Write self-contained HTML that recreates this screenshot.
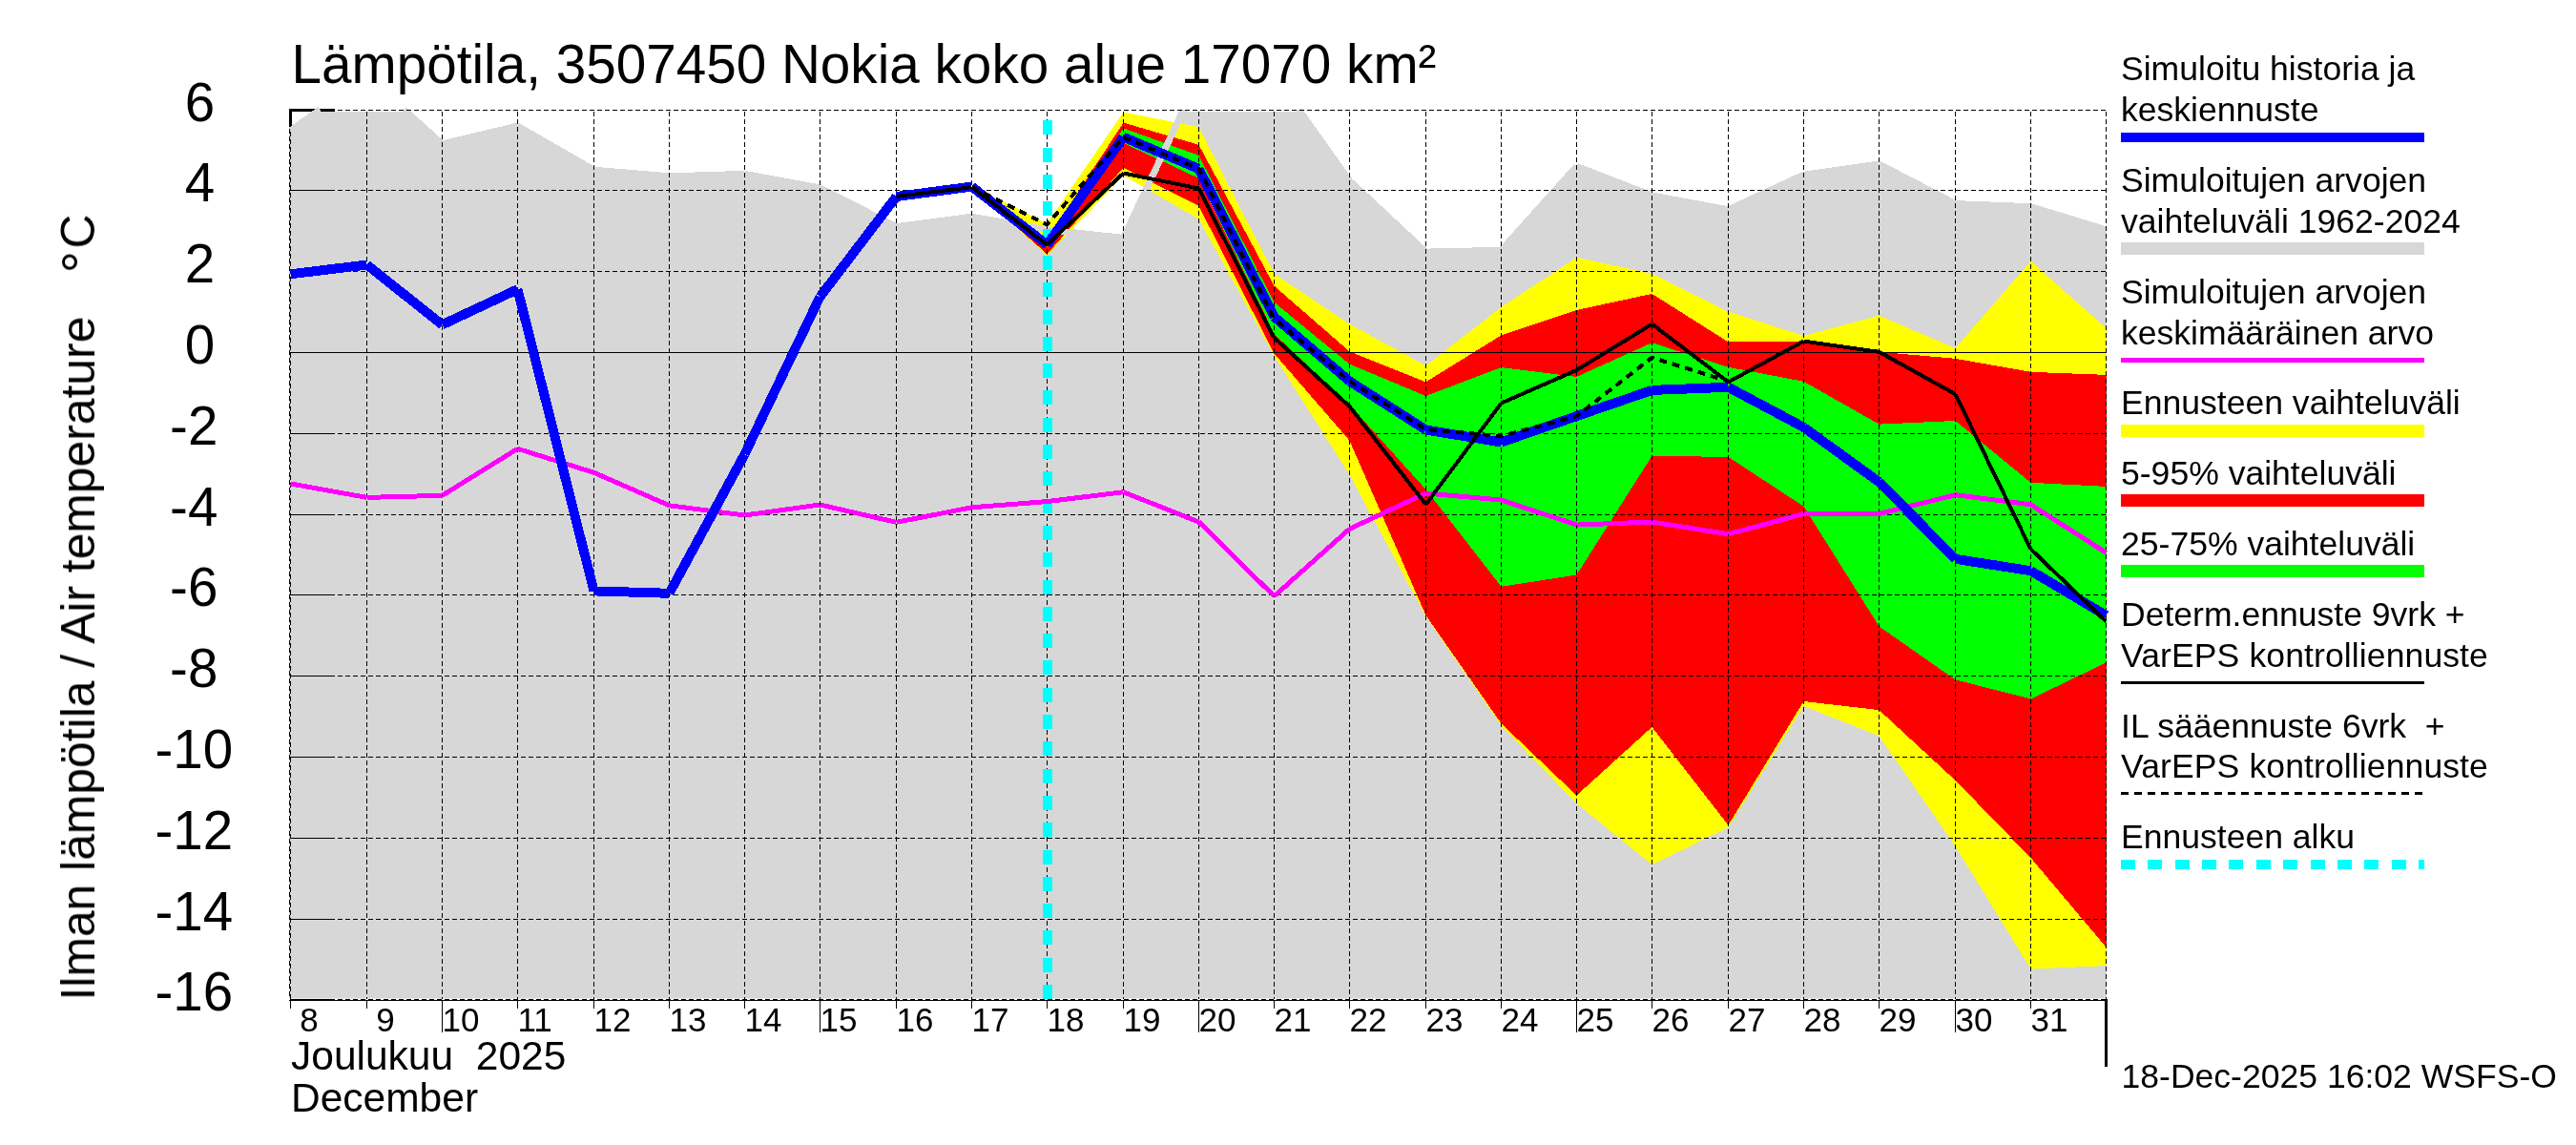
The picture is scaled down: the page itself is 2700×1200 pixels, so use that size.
<!DOCTYPE html>
<html><head><meta charset="utf-8"><title>Lämpötila</title>
<style>
html,body{margin:0;padding:0;background:#fff;}
body{width:2700px;height:1200px;overflow:hidden;font-family:"Liberation Sans",sans-serif;}
svg{display:block;}
text{font-family:"Liberation Sans",sans-serif;fill:#000;}
</style></head><body>
<svg width="2700" height="1200" viewBox="0 0 2700 1200">
<rect width="2700" height="1200" fill="#fff"/>
<defs>
<clipPath id="cp"><rect x="303" y="117" width="1905" height="929.5"/></clipPath>
<clipPath id="cpl"><rect x="303" y="112" width="1907" height="936"/></clipPath>

<clipPath id="gp"><polygon points="301.5,136.9 304.5,136.9 384.5,80.0 463.5,150.9 542.5,132.1 622.5,178.2 701.5,184.8 780.5,182.4 859.5,196.9 939.5,237.7 1018.5,227.2 1097.5,240.8 1177.5,249.4 1256.5,80.5 1335.5,78.6 1414.5,189.6 1494.5,264.1 1573.5,262.3 1652.5,174.4 1731.5,205.0 1811.5,219.8 1890.5,183.2 1969.5,172.0 2049.5,213.6 2128.5,216.7 2207.5,240.8 2210.5,240.8 2210.5,1060 301.5,1060"/></clipPath>
</defs>
<g shape-rendering="crispEdges">
<rect x="303" y="114" width="3" height="20" fill="#000"/>
<rect x="303" y="114" width="48" height="3" fill="#000"/>
<g clip-path="url(#cp)"><polygon points="301.5,136.9 304.5,136.9 384.5,80.0 463.5,150.9 542.5,132.1 622.5,178.2 701.5,184.8 780.5,182.4 859.5,196.9 939.5,237.7 1018.5,227.2 1097.5,240.8 1177.5,249.4 1256.5,80.5 1335.5,78.6 1414.5,189.6 1494.5,264.1 1573.5,262.3 1652.5,174.4 1731.5,205.0 1811.5,219.8 1890.5,183.2 1969.5,172.0 2049.5,213.6 2128.5,216.7 2207.5,240.8 2210.5,240.8 2210.5,1060 301.5,1060" fill="#d7d7d7"/>
<polygon points="1018.5,194.5 1097.5,234.1 1177.5,117.5 1256.5,133.2 1335.5,287.0 1414.5,339.6 1494.5,383.2 1573.5,321.9 1652.5,269.8 1731.5,286.9 1811.5,326.5 1890.5,352.0 1969.5,330.7 2049.5,364.9 2128.5,273.7 2207.5,343.9 2207.5,1012.1 2128.5,1015.6 2049.5,887.0 1969.5,771.3 1890.5,740.0 1811.5,867.2 1731.5,906.1 1652.5,842.2 1573.5,760.6 1494.5,646.0 1414.5,497.5 1335.5,373.0 1256.5,229.7 1177.5,183.8 1097.5,268.0 1018.5,196.5" fill="#ffff00"/>
<polygon points="1018.5,195.6 1097.5,251.0 1177.5,128.5 1256.5,151.8 1335.5,299.6 1414.5,368.4 1494.5,400.3 1573.5,351.4 1652.5,325.0 1731.5,307.9 1811.5,358.4 1890.5,357.5 1969.5,368.8 2049.5,375.8 2128.5,389.8 2207.5,392.9 2207.5,992.7 2128.5,899.0 2049.5,817.9 1969.5,744.1 1890.5,735.0 1811.5,864.8 1731.5,761.9 1652.5,833.7 1573.5,758.3 1494.5,645.0 1414.5,461.8 1335.5,370.5 1256.5,216.0 1177.5,175.7 1097.5,266.5 1018.5,196.2" fill="#ff0000"/>
<polygon points="1018.5,195.8 1097.5,254.0 1177.5,134.4 1256.5,162.9 1335.5,316.8 1414.5,381.6 1494.5,415.0 1573.5,385.0 1652.5,394.9 1731.5,359.2 1811.5,384.8 1890.5,399.8 1969.5,444.6 2049.5,441.0 2128.5,505.8 2207.5,509.9 2207.5,694.5 2128.5,732.5 2049.5,712.4 1969.5,656.4 1890.5,530.7 1811.5,478.9 1731.5,477.8 1652.5,602.5 1573.5,614.8 1494.5,513.0 1414.5,424.4 1335.5,350.0 1256.5,186.8 1177.5,150.0 1097.5,259.0 1018.5,196.0" fill="#00ff00"/>
<line x1="300.5" y1="139.8" x2="304.5" y2="136.9" stroke="#d7d7d7" stroke-width="7.0"/>
<line x1="304.5" y1="136.9" x2="384.5" y2="80.0" stroke="#d7d7d7" stroke-width="7.0" />
<line x1="384.5" y1="80.0" x2="463.5" y2="150.9" stroke="#d7d7d7" stroke-width="7.0" />
<line x1="463.5" y1="150.9" x2="542.5" y2="132.1" stroke="#d7d7d7" stroke-width="7.0" />
<line x1="542.5" y1="132.1" x2="622.5" y2="178.2" stroke="#d7d7d7" stroke-width="7.0" />
<line x1="622.5" y1="178.2" x2="701.5" y2="184.8" stroke="#d7d7d7" stroke-width="7.0" />
<line x1="701.5" y1="184.8" x2="780.5" y2="182.4" stroke="#d7d7d7" stroke-width="7.0" />
<line x1="780.5" y1="182.4" x2="859.5" y2="196.9" stroke="#d7d7d7" stroke-width="7.0" />
<line x1="859.5" y1="196.9" x2="939.5" y2="237.7" stroke="#d7d7d7" stroke-width="7.0" />
<line x1="939.5" y1="237.7" x2="1018.5" y2="227.2" stroke="#d7d7d7" stroke-width="7.0" />
<line x1="1018.5" y1="227.2" x2="1097.5" y2="240.8" stroke="#d7d7d7" stroke-width="7.0" />
<line x1="1097.5" y1="240.8" x2="1177.5" y2="249.4" stroke="#d7d7d7" stroke-width="7.0" />
<line x1="1177.5" y1="249.4" x2="1256.5" y2="80.5" stroke="#d7d7d7" stroke-width="7.0" />
<line x1="1256.5" y1="80.5" x2="1335.5" y2="78.6" stroke="#d7d7d7" stroke-width="7.0" />
<line x1="1335.5" y1="78.6" x2="1414.5" y2="189.6" stroke="#d7d7d7" stroke-width="7.0" />
<line x1="1414.5" y1="189.6" x2="1494.5" y2="264.1" stroke="#d7d7d7" stroke-width="7.0" />
<line x1="1494.5" y1="264.1" x2="1573.5" y2="262.3" stroke="#d7d7d7" stroke-width="7.0" />
<line x1="1573.5" y1="262.3" x2="1652.5" y2="174.4" stroke="#d7d7d7" stroke-width="7.0" />
<line x1="1652.5" y1="174.4" x2="1731.5" y2="205.0" stroke="#d7d7d7" stroke-width="7.0" />
<line x1="1731.5" y1="205.0" x2="1811.5" y2="219.8" stroke="#d7d7d7" stroke-width="7.0" />
<line x1="1811.5" y1="219.8" x2="1890.5" y2="183.2" stroke="#d7d7d7" stroke-width="7.0" />
<line x1="1890.5" y1="183.2" x2="1969.5" y2="172.0" stroke="#d7d7d7" stroke-width="7.0" />
<line x1="1969.5" y1="172.0" x2="2049.5" y2="213.6" stroke="#d7d7d7" stroke-width="7.0" />
<line x1="2049.5" y1="213.6" x2="2128.5" y2="216.7" stroke="#d7d7d7" stroke-width="7.0" />
<line x1="2128.5" y1="216.7" x2="2207.5" y2="240.8" stroke="#d7d7d7" stroke-width="7.0" />
<line x1="2207.5" y1="240.8" x2="2211.5" y2="242.0" stroke="#d7d7d7" stroke-width="7.0"/>
</g>
<line x1="304" y1="115.5" x2="351" y2="115.5" stroke="#000" stroke-width="1"/>
<line x1="304" y1="199.5" x2="351" y2="199.5" stroke="#000" stroke-width="1"/>
<line x1="304" y1="284.5" x2="351" y2="284.5" stroke="#000" stroke-width="1"/>
<line x1="304" y1="454.5" x2="351" y2="454.5" stroke="#000" stroke-width="1"/>
<line x1="304" y1="539.5" x2="351" y2="539.5" stroke="#000" stroke-width="1"/>
<line x1="304" y1="623.5" x2="351" y2="623.5" stroke="#000" stroke-width="1"/>
<line x1="304" y1="708.5" x2="351" y2="708.5" stroke="#000" stroke-width="1"/>
<line x1="304" y1="793.5" x2="351" y2="793.5" stroke="#000" stroke-width="1"/>
<line x1="304" y1="878.5" x2="351" y2="878.5" stroke="#000" stroke-width="1"/>
<line x1="304" y1="963.5" x2="351" y2="963.5" stroke="#000" stroke-width="1"/>
<line x1="304" y1="1047.5" x2="351" y2="1047.5" stroke="#000" stroke-width="1"/>
<polygon points="325.74,117.5 333.26,112.15 337.07,117.5" fill="#d7d7d7"/>
<polygon points="431.52,117.5 425.84,112.40 421.25,117.5" fill="#d7d7d7"/>
<polygon points="1235.33,117.5 1237.19,113.52 1245.71,117.5" fill="#d7d7d7"/>
<polygon points="1367.48,117.5 1364.26,112.97 1357.89,117.5" fill="#d7d7d7"/>
<line x1="354" y1="115.5" x2="2208" y2="115.5" stroke="#000" stroke-width="1" stroke-dasharray="5 3"/>
<line x1="354" y1="199.5" x2="2208" y2="199.5" stroke="#000" stroke-width="1" stroke-dasharray="5 3"/>
<line x1="354" y1="284.5" x2="2208" y2="284.5" stroke="#000" stroke-width="1" stroke-dasharray="5 3"/>
<line x1="304" y1="369.5" x2="2208" y2="369.5" stroke="#000" stroke-width="1"/>
<line x1="354" y1="454.5" x2="2208" y2="454.5" stroke="#000" stroke-width="1" stroke-dasharray="5 3"/>
<line x1="354" y1="539.5" x2="2208" y2="539.5" stroke="#000" stroke-width="1" stroke-dasharray="5 3"/>
<line x1="354" y1="623.5" x2="2208" y2="623.5" stroke="#000" stroke-width="1" stroke-dasharray="5 3"/>
<line x1="354" y1="708.5" x2="2208" y2="708.5" stroke="#000" stroke-width="1" stroke-dasharray="5 3"/>
<line x1="354" y1="793.5" x2="2208" y2="793.5" stroke="#000" stroke-width="1" stroke-dasharray="5 3"/>
<line x1="354" y1="878.5" x2="2208" y2="878.5" stroke="#000" stroke-width="1" stroke-dasharray="5 3"/>
<line x1="354" y1="963.5" x2="2208" y2="963.5" stroke="#000" stroke-width="1" stroke-dasharray="5 3"/>
<line x1="354" y1="1047.5" x2="2208" y2="1047.5" stroke="#000" stroke-width="1" stroke-dasharray="5 3"/>
<line x1="303.5" y1="134.8" x2="303.5" y2="1047" stroke="#000" stroke-width="1" stroke-dasharray="5 3"/>
<line x1="304.5" y1="137.7" x2="304.5" y2="1047" stroke="#000" stroke-width="1" stroke-dasharray="5 3"/>
<line x1="384.5" y1="117" x2="384.5" y2="1047" stroke="#000" stroke-width="1" stroke-dasharray="5 3"/>
<line x1="463.5" y1="117" x2="463.5" y2="1047" stroke="#000" stroke-width="1" stroke-dasharray="5 3"/>
<line x1="542.5" y1="117" x2="542.5" y2="1047" stroke="#000" stroke-width="1" stroke-dasharray="5 3"/>
<line x1="622.5" y1="117" x2="622.5" y2="1047" stroke="#000" stroke-width="1" stroke-dasharray="5 3"/>
<line x1="701.5" y1="117" x2="701.5" y2="1047" stroke="#000" stroke-width="1" stroke-dasharray="5 3"/>
<line x1="780.5" y1="117" x2="780.5" y2="1047" stroke="#000" stroke-width="1" stroke-dasharray="5 3"/>
<line x1="859.5" y1="117" x2="859.5" y2="1047" stroke="#000" stroke-width="1" stroke-dasharray="5 3"/>
<line x1="939.5" y1="117" x2="939.5" y2="1047" stroke="#000" stroke-width="1" stroke-dasharray="5 3"/>
<line x1="1018.5" y1="117" x2="1018.5" y2="1047" stroke="#000" stroke-width="1" stroke-dasharray="5 3"/>
<line x1="1097.5" y1="117" x2="1097.5" y2="1047" stroke="#000" stroke-width="1" stroke-dasharray="5 3"/>
<line x1="1177.5" y1="117" x2="1177.5" y2="1047" stroke="#000" stroke-width="1" stroke-dasharray="5 3"/>
<line x1="1256.5" y1="117" x2="1256.5" y2="1047" stroke="#000" stroke-width="1" stroke-dasharray="5 3"/>
<line x1="1335.5" y1="117" x2="1335.5" y2="1047" stroke="#000" stroke-width="1" stroke-dasharray="5 3"/>
<line x1="1414.5" y1="117" x2="1414.5" y2="1047" stroke="#000" stroke-width="1" stroke-dasharray="5 3"/>
<line x1="1494.5" y1="117" x2="1494.5" y2="1047" stroke="#000" stroke-width="1" stroke-dasharray="5 3"/>
<line x1="1573.5" y1="117" x2="1573.5" y2="1047" stroke="#000" stroke-width="1" stroke-dasharray="5 3"/>
<line x1="1652.5" y1="117" x2="1652.5" y2="1047" stroke="#000" stroke-width="1" stroke-dasharray="5 3"/>
<line x1="1731.5" y1="117" x2="1731.5" y2="1047" stroke="#000" stroke-width="1" stroke-dasharray="5 3"/>
<line x1="1811.5" y1="117" x2="1811.5" y2="1047" stroke="#000" stroke-width="1" stroke-dasharray="5 3"/>
<line x1="1890.5" y1="117" x2="1890.5" y2="1047" stroke="#000" stroke-width="1" stroke-dasharray="5 3"/>
<line x1="1969.5" y1="117" x2="1969.5" y2="1047" stroke="#000" stroke-width="1" stroke-dasharray="5 3"/>
<line x1="2049.5" y1="117" x2="2049.5" y2="1047" stroke="#000" stroke-width="1" stroke-dasharray="5 3"/>
<line x1="2128.5" y1="117" x2="2128.5" y2="1047" stroke="#000" stroke-width="1" stroke-dasharray="5 3"/>
<line x1="2207.5" y1="117" x2="2207.5" y2="1047" stroke="#000" stroke-width="1" stroke-dasharray="5 3"/>
<g clip-path="url(#cpl)">
<line x1="1098" y1="126.4" x2="1098" y2="1060" stroke="#00ffff" stroke-width="10" stroke-dasharray="15 13.3"/>
<line x1="304.5" y1="506.9" x2="384.5" y2="521.4" stroke="#ff00ff" stroke-width="5" />
<line x1="384.5" y1="521.4" x2="463.5" y2="519.3" stroke="#ff00ff" stroke-width="5" />
<line x1="463.5" y1="519.3" x2="542.5" y2="470.3" stroke="#ff00ff" stroke-width="5" />
<line x1="542.5" y1="470.3" x2="622.5" y2="495.3" stroke="#ff00ff" stroke-width="5" />
<line x1="622.5" y1="495.3" x2="701.5" y2="529.8" stroke="#ff00ff" stroke-width="5" />
<line x1="701.5" y1="529.8" x2="780.5" y2="540.0" stroke="#ff00ff" stroke-width="5" />
<line x1="780.5" y1="540.0" x2="859.5" y2="529.0" stroke="#ff00ff" stroke-width="5" />
<line x1="859.5" y1="529.0" x2="939.5" y2="547.3" stroke="#ff00ff" stroke-width="5" />
<line x1="939.5" y1="547.3" x2="1018.5" y2="531.8" stroke="#ff00ff" stroke-width="5" />
<line x1="1018.5" y1="531.8" x2="1097.5" y2="525.6" stroke="#ff00ff" stroke-width="5" />
<line x1="1097.5" y1="525.6" x2="1177.5" y2="515.7" stroke="#ff00ff" stroke-width="5" />
<line x1="1177.5" y1="515.7" x2="1256.5" y2="547.0" stroke="#ff00ff" stroke-width="5" />
<line x1="1256.5" y1="547.0" x2="1335.5" y2="624.8" stroke="#ff00ff" stroke-width="5" />
<line x1="1335.5" y1="624.8" x2="1414.5" y2="554.3" stroke="#ff00ff" stroke-width="5" />
<line x1="1414.5" y1="554.3" x2="1494.5" y2="517.0" stroke="#ff00ff" stroke-width="5" />
<line x1="1494.5" y1="517.0" x2="1573.5" y2="524.0" stroke="#ff00ff" stroke-width="5" />
<line x1="1573.5" y1="524.0" x2="1652.5" y2="550.1" stroke="#ff00ff" stroke-width="5" />
<line x1="1652.5" y1="550.1" x2="1731.5" y2="547.0" stroke="#ff00ff" stroke-width="5" />
<line x1="1731.5" y1="547.0" x2="1811.5" y2="559.7" stroke="#ff00ff" stroke-width="5" />
<line x1="1811.5" y1="559.7" x2="1890.5" y2="538.5" stroke="#ff00ff" stroke-width="5" />
<line x1="1890.5" y1="538.5" x2="1969.5" y2="538.5" stroke="#ff00ff" stroke-width="5" />
<line x1="1969.5" y1="538.5" x2="2049.5" y2="518.7" stroke="#ff00ff" stroke-width="5" />
<line x1="2049.5" y1="518.7" x2="2128.5" y2="528.8" stroke="#ff00ff" stroke-width="5" />
<line x1="2128.5" y1="528.8" x2="2207.5" y2="579.3" stroke="#ff00ff" stroke-width="5" />
<line x1="304.5" y1="287.3" x2="384.5" y2="277.5" stroke="#0000ff" stroke-width="10" />
<line x1="384.5" y1="277.5" x2="463.5" y2="340.3" stroke="#0000ff" stroke-width="10" />
<line x1="463.5" y1="340.3" x2="542.5" y2="303.2" stroke="#0000ff" stroke-width="10" />
<line x1="542.5" y1="303.2" x2="622.5" y2="619.4" stroke="#0000ff" stroke-width="10" />
<line x1="622.5" y1="619.4" x2="701.5" y2="621.8" stroke="#0000ff" stroke-width="10" />
<line x1="701.5" y1="621.8" x2="780.5" y2="476.0" stroke="#0000ff" stroke-width="10" />
<line x1="780.5" y1="476.0" x2="859.5" y2="311.0" stroke="#0000ff" stroke-width="10" />
<line x1="859.5" y1="311.0" x2="939.5" y2="206.0" stroke="#0000ff" stroke-width="10" />
<line x1="939.5" y1="206.0" x2="1018.5" y2="195.6" stroke="#0000ff" stroke-width="10" />
<line x1="1018.5" y1="195.6" x2="1097.5" y2="256.5" stroke="#0000ff" stroke-width="10" />
<line x1="1097.5" y1="256.5" x2="1177.5" y2="143.7" stroke="#0000ff" stroke-width="10" />
<line x1="1177.5" y1="143.7" x2="1256.5" y2="176.9" stroke="#0000ff" stroke-width="10" />
<line x1="1256.5" y1="176.9" x2="1335.5" y2="332.0" stroke="#0000ff" stroke-width="10" />
<line x1="1335.5" y1="332.0" x2="1414.5" y2="399.5" stroke="#0000ff" stroke-width="10" />
<line x1="1414.5" y1="399.5" x2="1494.5" y2="450.5" stroke="#0000ff" stroke-width="10" />
<line x1="1494.5" y1="450.5" x2="1573.5" y2="463.5" stroke="#0000ff" stroke-width="10" />
<line x1="1573.5" y1="463.5" x2="1652.5" y2="436.1" stroke="#0000ff" stroke-width="10" />
<line x1="1652.5" y1="436.1" x2="1731.5" y2="408.9" stroke="#0000ff" stroke-width="10" />
<line x1="1731.5" y1="408.9" x2="1811.5" y2="405.8" stroke="#0000ff" stroke-width="10" />
<line x1="1811.5" y1="405.8" x2="1890.5" y2="447.8" stroke="#0000ff" stroke-width="10" />
<line x1="1890.5" y1="447.8" x2="1969.5" y2="505.2" stroke="#0000ff" stroke-width="10" />
<line x1="1969.5" y1="505.2" x2="2049.5" y2="585.8" stroke="#0000ff" stroke-width="10" />
<line x1="2049.5" y1="585.8" x2="2128.5" y2="598.2" stroke="#0000ff" stroke-width="10" />
<line x1="2128.5" y1="598.2" x2="2207.5" y2="645.0" stroke="#0000ff" stroke-width="10" />
<line x1="939.5" y1="206.0" x2="1018.5" y2="196.0" stroke="#000" stroke-width="4" />
<line x1="1018.5" y1="196.0" x2="1097.5" y2="256.5" stroke="#000" stroke-width="4" />
<line x1="1097.5" y1="256.5" x2="1177.5" y2="181.5" stroke="#000" stroke-width="4" />
<line x1="1177.5" y1="181.5" x2="1256.5" y2="197.5" stroke="#000" stroke-width="4" />
<line x1="1256.5" y1="197.5" x2="1335.5" y2="354.0" stroke="#000" stroke-width="4" />
<line x1="1335.5" y1="354.0" x2="1414.5" y2="425.9" stroke="#000" stroke-width="4" />
<line x1="1414.5" y1="425.9" x2="1494.5" y2="528.6" stroke="#000" stroke-width="4" />
<line x1="1494.5" y1="528.6" x2="1573.5" y2="422.5" stroke="#000" stroke-width="4" />
<line x1="1573.5" y1="422.5" x2="1652.5" y2="387.9" stroke="#000" stroke-width="4" />
<line x1="1652.5" y1="387.9" x2="1731.5" y2="339.7" stroke="#000" stroke-width="4" />
<line x1="1731.5" y1="339.7" x2="1811.5" y2="400.4" stroke="#000" stroke-width="4" />
<line x1="1811.5" y1="400.4" x2="1890.5" y2="357.6" stroke="#000" stroke-width="4" />
<line x1="1890.5" y1="357.6" x2="1969.5" y2="368.8" stroke="#000" stroke-width="4" />
<line x1="1969.5" y1="368.8" x2="2049.5" y2="413.1" stroke="#000" stroke-width="4" />
<line x1="2049.5" y1="413.1" x2="2128.5" y2="575.5" stroke="#000" stroke-width="4" />
<line x1="2128.5" y1="575.5" x2="2207.5" y2="651.5" stroke="#000" stroke-width="4" />
<polyline points="1018.5,196.0 1097.5,235.3 1177.5,143.7 1256.5,176.9 1335.5,334.0 1414.5,399.5 1494.5,450.0 1573.5,457.1 1652.5,436.1 1731.5,374.7 1811.5,399.6" fill="none" stroke="#000" stroke-width="4" stroke-dasharray="8 6"/>
</g>
<rect x="303" y="1048" width="1906" height="1" fill="#000"/>
<rect x="304" y="1048" width="1" height="9" fill="#000"/>
<rect x="384" y="1048" width="1" height="9" fill="#000"/>
<rect x="463" y="1048" width="1" height="34" fill="#000"/>
<rect x="542" y="1048" width="1" height="9" fill="#000"/>
<rect x="622" y="1048" width="1" height="9" fill="#000"/>
<rect x="701" y="1048" width="1" height="9" fill="#000"/>
<rect x="780" y="1048" width="1" height="9" fill="#000"/>
<rect x="859" y="1048" width="1" height="34" fill="#000"/>
<rect x="939" y="1048" width="1" height="9" fill="#000"/>
<rect x="1018" y="1048" width="1" height="9" fill="#000"/>
<rect x="1097" y="1048" width="1" height="9" fill="#000"/>
<rect x="1177" y="1048" width="1" height="9" fill="#000"/>
<rect x="1256" y="1048" width="1" height="34" fill="#000"/>
<rect x="1335" y="1048" width="1" height="9" fill="#000"/>
<rect x="1414" y="1048" width="1" height="9" fill="#000"/>
<rect x="1494" y="1048" width="1" height="9" fill="#000"/>
<rect x="1573" y="1048" width="1" height="9" fill="#000"/>
<rect x="1652" y="1048" width="1" height="34" fill="#000"/>
<rect x="1731" y="1048" width="1" height="9" fill="#000"/>
<rect x="1811" y="1048" width="1" height="9" fill="#000"/>
<rect x="1890" y="1048" width="1" height="9" fill="#000"/>
<rect x="1969" y="1048" width="1" height="9" fill="#000"/>
<rect x="2049" y="1048" width="1" height="34" fill="#000"/>
<rect x="2128" y="1048" width="1" height="9" fill="#000"/>
<rect x="2206" y="1047" width="2.5" height="71" fill="#000"/>
<rect x="2223" y="139.0" width="318" height="10" fill="#0000ff"/>
<rect x="2223" y="254.0" width="318" height="13" fill="#d7d7d7"/>
<rect x="2223" y="375.0" width="318" height="5" fill="#ff00ff"/>
<rect x="2223" y="445.0" width="318" height="13" fill="#ffff00"/>
<rect x="2223" y="518.0" width="318" height="13" fill="#ff0000"/>
<rect x="2223" y="592.0" width="318" height="13" fill="#00ff00"/>
<rect x="2223" y="714.0" width="318" height="3" fill="#000"/>
<line x1="2223" y1="831.5" x2="2541" y2="831.5" stroke="#000" stroke-width="3" stroke-dasharray="8 6"/>
<line x1="2223" y1="906" x2="2541" y2="906" stroke="#00ffff" stroke-width="10" stroke-dasharray="15 13.36"/>
</g>
<g opacity="0.999">
<text x="305.5" y="87" font-size="56.67">Lämpötila, 3507450 Nokia koko alue 17070 km²</text>
<text x="162.4" y="126.8" font-size="56.5" xml:space="preserve">  6</text>
<text x="162.4" y="210.8" font-size="56.5" xml:space="preserve">  4</text>
<text x="162.4" y="295.8" font-size="56.5" xml:space="preserve">  2</text>
<text x="162.4" y="380.8" font-size="56.5" xml:space="preserve">  0</text>
<text x="162.4" y="465.8" font-size="56.5" xml:space="preserve"> -2</text>
<text x="162.4" y="550.8" font-size="56.5" xml:space="preserve"> -4</text>
<text x="162.4" y="634.8" font-size="56.5" xml:space="preserve"> -6</text>
<text x="162.4" y="719.8" font-size="56.5" xml:space="preserve"> -8</text>
<text x="162.4" y="804.8" font-size="56.5" xml:space="preserve">-10</text>
<text x="162.4" y="889.8" font-size="56.5" xml:space="preserve">-12</text>
<text x="162.4" y="974.8" font-size="56.5" xml:space="preserve">-14</text>
<text x="162.4" y="1058.8" font-size="56.5" xml:space="preserve">-16</text>
<text transform="translate(99,1048.5) rotate(-90)" font-size="49.8" xml:space="preserve">Ilman lämpötila / Air temperature   <tspan dx="4" dy="5.5" font-size="58">°</tspan><tspan dx="2.5" dy="-5.5" font-size="49.8">C</tspan></text>
<text x="304.5" y="1081" font-size="35" xml:space="preserve"> 8</text>
<text x="384.5" y="1081" font-size="35" xml:space="preserve"> 9</text>
<text x="463.5" y="1081" font-size="35" xml:space="preserve">10</text>
<text x="542.5" y="1081" font-size="35" xml:space="preserve">11</text>
<text x="622.5" y="1081" font-size="35" xml:space="preserve">12</text>
<text x="701.5" y="1081" font-size="35" xml:space="preserve">13</text>
<text x="780.5" y="1081" font-size="35" xml:space="preserve">14</text>
<text x="859.5" y="1081" font-size="35" xml:space="preserve">15</text>
<text x="939.5" y="1081" font-size="35" xml:space="preserve">16</text>
<text x="1018.5" y="1081" font-size="35" xml:space="preserve">17</text>
<text x="1097.5" y="1081" font-size="35" xml:space="preserve">18</text>
<text x="1177.5" y="1081" font-size="35" xml:space="preserve">19</text>
<text x="1256.5" y="1081" font-size="35" xml:space="preserve">20</text>
<text x="1335.5" y="1081" font-size="35" xml:space="preserve">21</text>
<text x="1414.5" y="1081" font-size="35" xml:space="preserve">22</text>
<text x="1494.5" y="1081" font-size="35" xml:space="preserve">23</text>
<text x="1573.5" y="1081" font-size="35" xml:space="preserve">24</text>
<text x="1652.5" y="1081" font-size="35" xml:space="preserve">25</text>
<text x="1731.5" y="1081" font-size="35" xml:space="preserve">26</text>
<text x="1811.5" y="1081" font-size="35" xml:space="preserve">27</text>
<text x="1890.5" y="1081" font-size="35" xml:space="preserve">28</text>
<text x="1969.5" y="1081" font-size="35" xml:space="preserve">29</text>
<text x="2049.5" y="1081" font-size="35" xml:space="preserve">30</text>
<text x="2128.5" y="1081" font-size="35" xml:space="preserve">31</text>
<text x="305" y="1121" font-size="42.5" xml:space="preserve">Joulukuu  2025</text>
<text x="305" y="1164.5" font-size="42.5">December</text>
<text x="2223" y="84.2" font-size="35.55" xml:space="preserve">Simuloitu historia ja</text>
<text x="2223" y="126.9" font-size="35.55" xml:space="preserve">keskiennuste</text>
<text x="2223" y="200.6" font-size="35.55" xml:space="preserve">Simuloitujen arvojen</text>
<text x="2223" y="244.3" font-size="35.55" xml:space="preserve">vaihteluväli 1962-2024</text>
<text x="2223" y="318.0" font-size="35.55" xml:space="preserve">Simuloitujen arvojen</text>
<text x="2223" y="360.5" font-size="35.55" xml:space="preserve">keskimääräinen arvo</text>
<text x="2223" y="433.9" font-size="35.55" xml:space="preserve">Ennusteen vaihteluväli</text>
<text x="2223" y="507.7" font-size="35.55" xml:space="preserve">5-95% vaihteluväli</text>
<text x="2223" y="581.8" font-size="35.55" xml:space="preserve">25-75% vaihteluväli</text>
<text x="2223" y="655.6" font-size="35.55" xml:space="preserve">Determ.ennuste 9vrk +</text>
<text x="2223" y="699.3" font-size="35.55" letter-spacing="0.1" xml:space="preserve">VarEPS kontrolliennuste</text>
<text x="2223" y="773.1" font-size="35.55" xml:space="preserve">IL sääennuste 6vrk  +</text>
<text x="2223" y="814.8" font-size="35.55" letter-spacing="0.1" xml:space="preserve">VarEPS kontrolliennuste</text>
<text x="2223" y="889.0" font-size="35.55" xml:space="preserve">Ennusteen alku</text>
<text x="2223.5" y="1140.2" font-size="35.55">18-Dec-2025 16:02 WSFS-O</text>
</g>
</svg></body></html>
